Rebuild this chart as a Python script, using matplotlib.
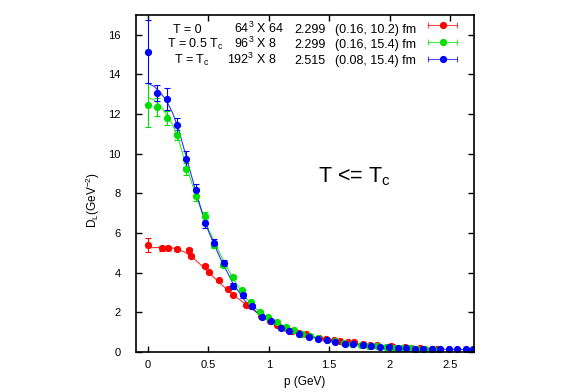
import matplotlib
matplotlib.use("Agg")
import matplotlib.pyplot as plt
from matplotlib.lines import Line2D
from matplotlib.legend_handler import HandlerLine2D, HandlerTuple

plt.rcParams['font.family'] = ['Liberation Sans', 'DejaVu Sans']
plt.rcParams['mathtext.fontset'] = 'custom'
plt.rcParams['mathtext.rm'] = 'Liberation Sans'
plt.rcParams['mathtext.it'] = 'Liberation Sans:italic'
plt.rcParams['font.size'] = 8

# T = 0 (red)
red_p = [0, 0.118, 0.168, 0.237, 0.335, 0.356, 0.474, 0.503, 0.585, 0.665, 0.705, 0.815, 0.854,
         0.935, 1.01, 1.07, 1.14, 1.19, 1.25, 1.31, 1.42, 1.47, 1.54, 1.59, 1.66, 1.71, 1.78,
         1.84, 1.90, 2.01, 2.03, 2.13, 2.18, 2.25, 2.35, 2.39]
red_D = [5.38, 5.23, 5.23, 5.22, 5.15, 4.86, 4.34, 4.02, 3.62, 3.18, 2.90, 2.37, 2.31,
         1.80, 1.58, 1.36, 1.19, 1.08, 0.95, 0.89, 0.72, 0.66, 0.60, 0.57, 0.50, 0.48, 0.41,
         0.37, 0.33, 0.28, 0.27, 0.23, 0.22, 0.19, 0.17, 0.16]
red_err = [0.35, 0.12, 0.1, 0.1, 0.12, 0.1, 0.08, 0.08, 0.07, 0.07, 0.06, 0.06, 0.06,
           0.05, 0.05, 0.05, 0.04, 0.04, 0.04, 0.04, 0.03, 0.03, 0.03, 0.03, 0.03, 0.03, 0.02,
           0.02, 0.02, 0.02, 0.02, 0.02, 0.02, 0.02, 0.02, 0.02]
red_fit_p = [0, 0.08, 0.15, 0.2, 0.25, 0.3, 0.35, 0.4, 0.45, 0.5, 0.6, 0.7, 0.8, 0.9, 1.0, 1.1,
             1.2, 1.3, 1.4, 1.6, 1.8, 2.0, 2.2, 2.4]
red_fit_D = [5.26, 5.27, 5.28, 5.25, 5.18, 5.05, 4.85, 4.6, 4.32, 4.02, 3.45, 2.92, 2.45, 2.0,
             1.62, 1.3, 1.05, 0.86, 0.7, 0.5, 0.36, 0.27, 0.21, 0.16]

# T = 0.5 Tc (green)
green_p = [0, 0.078, 0.155, 0.237, 0.315, 0.395, 0.475, 0.55, 0.624, 0.70, 0.78, 0.855, 0.925,
           0.995, 1.066, 1.14, 1.21, 1.275, 1.345, 1.41, 1.48, 1.55, 1.62, 1.69, 1.76, 1.83,
           1.90, 1.97, 2.04, 2.10, 2.17, 2.23, 2.29, 2.36, 2.42]
green_D = [12.45, 12.37, 11.8, 10.93, 9.24, 7.87, 6.87, 5.40, 4.40, 3.80, 3.11, 2.52, 2.04,
           1.75, 1.50, 1.25, 1.09, 0.93, 0.80, 0.70, 0.62, 0.54, 0.47, 0.41, 0.36, 0.32,
           0.28, 0.25, 0.22, 0.20, 0.18, 0.16, 0.15, 0.14, 0.13]
green_err = [1.1, 0.45, 0.35, 0.25, 0.3, 0.25, 0.2, 0.15, 0.12, 0.1, 0.09, 0.08, 0.07,
             0.06, 0.05, 0.05, 0.04, 0.04, 0.03, 0.03, 0.03, 0.03, 0.02, 0.02, 0.02, 0.02,
             0.02, 0.02, 0.02, 0.02, 0.02, 0.02, 0.02, 0.02, 0.02]
green_fit_p = [0, 0.05, 0.1, 0.15, 0.2, 0.25, 0.3, 0.35, 0.4, 0.45, 0.5, 0.6, 0.7, 0.8, 0.9,
               1.0, 1.2, 1.4, 1.6, 1.8, 2.0, 2.2, 2.42]
green_fit_D = [12.85, 12.7, 12.45, 12.0, 11.5, 10.8, 9.7, 8.75, 7.85, 7.0, 6.2, 4.9, 3.75, 2.8,
               2.15, 1.7, 1.1, 0.72, 0.48, 0.34, 0.25, 0.19, 0.14]

# T = Tc (blue)
blue_p = [0, 0.078, 0.155, 0.237, 0.315, 0.395, 0.475, 0.55, 0.63, 0.707, 0.787, 0.865, 0.94,
          1.02, 1.10, 1.17, 1.25, 1.33, 1.41, 1.48, 1.55, 1.63, 1.70, 1.78, 1.85, 1.92,
          1.995, 2.07, 2.14, 2.21, 2.28, 2.35, 2.42, 2.49, 2.56, 2.63, 2.69]
blue_D = [15.15, 13.05, 12.75, 11.43, 9.75, 8.16, 6.5, 5.52, 4.48, 3.34, 2.86, 2.31, 1.75,
          1.54, 1.22, 1.05, 0.89, 0.75, 0.65, 0.59, 0.50, 0.42, 0.39, 0.35, 0.30, 0.25,
          0.25, 0.20, 0.18, 0.17, 0.15, 0.13, 0.13, 0.13, 0.13, 0.13, 0.13]
blue_err = [1.58, 0.4, 0.55, 0.38, 0.4, 0.33, 0.25, 0.2, 0.15, 0.15, 0.12, 0.1, 0.08,
            0.07, 0.06, 0.05, 0.05, 0.04, 0.04, 0.03, 0.03, 0.03, 0.03, 0.02, 0.02, 0.02,
            0.02, 0.02, 0.02, 0.02, 0.02, 0.02, 0.02, 0.02, 0.02, 0.02, 0.02]
blue_fit_p = [0, 0.05, 0.1, 0.15, 0.2, 0.25, 0.3, 0.35, 0.4, 0.45, 0.5, 0.6, 0.7, 0.8, 0.9,
              1.0, 1.2, 1.4, 1.6, 1.8, 2.0, 2.2, 2.4, 2.7]
blue_fit_D = [13.55, 13.4, 13.1, 12.7, 12.1, 11.3, 10.2, 9.1, 8.0, 7.0, 6.1, 4.7, 3.5, 2.6,
              2.0, 1.6, 1.05, 0.68, 0.45, 0.32, 0.24, 0.18, 0.14, 0.12]

col_red = '#ff0000'
col_green = '#00e000'
col_blue = '#0000ff'

W, H = 561, 392
fig = plt.figure(figsize=(W / 100, H / 100), dpi=100)
ax = fig.add_axes([136 / W, 40 / H, 338 / W, 337 / H])

handles = []
for p, d, e, fp, fd, c in [(red_p, red_D, red_err, red_fit_p, red_fit_D, col_red),
                           (green_p, green_D, green_err, green_fit_p, green_fit_D, col_green),
                           (blue_p, blue_D, blue_err, blue_fit_p, blue_fit_D, col_blue)]:
    ax.plot(fp, fd, color=c, lw=0.8, alpha=0.8)
    ax.errorbar(p, d, yerr=e, fmt='o', color=c, ms=4.2, ecolor=c, elinewidth=0.8,
                capsize=2.2, capthick=0.8)
    caps = Line2D([], [], color=c, lw=0.8, marker='|', ms=4.5, mew=0.8, alpha=0.7)
    dot = Line2D([], [], color=c, ls='none', marker='o', ms=4.2)
    handles.append((caps, dot))

hmap = {h[0]: HandlerLine2D(numpoints=2) for h in handles}
hmap.update({h[1]: HandlerLine2D(numpoints=1) for h in handles})
hmap[tuple] = HandlerTuple(ndivide=1)
ax.legend(handles, ['', '', ''], handler_map=hmap, loc='upper left', markerfirst=False,
          bbox_to_anchor=(425 / W, 1 - 21 / H), bbox_transform=fig.transFigure,
          frameon=False, borderpad=0, borderaxespad=0, handletextpad=0,
          handlelength=3.15, labelspacing=0.62)

def ftext(x, y, s, **kw):
    fig.text(x / W, 1 - y / H, s, va='baseline', fontsize=9, **kw)

rows = [(173, 33, 'T = 0', 284, '64$^3$ X 64', '2.299', '(0.16, 10.2) fm'),
        (167, 47.7, 'T = 0.5 T$_\\mathrm{c}$', 277, '96$^3$ X 8', '2.299', '(0.16, 15.4) fm'),
        (174, 64.3, 'T = T$_\\mathrm{c}$', 277, '192$^3$ X 8', '2.515', '(0.08, 15.4) fm')]
for x1, y, t1, x2, t2, t3, t4 in rows:
    ftext(x1, y, t1, ha='left')
    ftext(x2, y, t2, ha='right')
    ftext(294, y, t3, ha='left')
    ftext(335, y, t4, ha='left')

fig.text(318 / W, 1 - 182 / H, 'T <= T$_\\mathrm{c}$', ha='left', va='baseline', fontsize=15.5)

ax.set_xlim(-0.1, 2.7)
ax.set_ylim(0, 17)
ax.set_xticks([0, 0.5, 1, 1.5, 2, 2.5])
ax.set_xticklabels(['0', '0.5', '1', '1.5', '2', '2.5'])
ax.set_yticks(range(0, 17, 2))
ax.tick_params(direction='in', length=4, width=1, top=True, right=True)
ax.tick_params(axis='y', pad=11)
ax.tick_params(axis='x', pad=6)
for s in ax.spines.values():
    s.set_linewidth(1.2)

ax.set_xlabel('p (GeV)', fontsize=8.5)
ax.xaxis.set_label_coords(0.5, -0.0712)
ax.set_ylabel('D$_\\mathrm{L}$(GeV$^{-2}$)', fontsize=8.5)
ax.yaxis.set_label_coords(-0.1006, 0.451)

fig.savefig('out.png', dpi=100)
